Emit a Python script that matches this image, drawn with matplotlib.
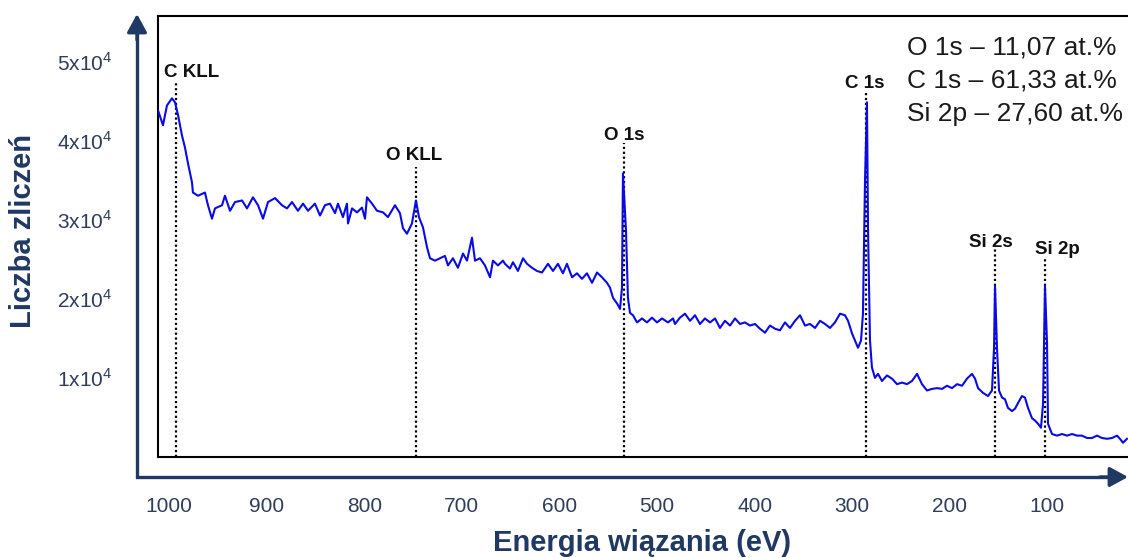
import matplotlib
matplotlib.use('Agg')
import matplotlib.pyplot as plt
from matplotlib.lines import Line2D

plt.rcParams['font.family'] = ['Liberation Sans', 'DejaVu Sans']
plt.rcParams['mathtext.fontset'] = 'custom'
plt.rcParams['mathtext.rm'] = 'Liberation Sans'

# survey spectrum: binding energy (eV) and counts
energy = [1011.3, 1006.2, 1002.1, 997.0, 993.9, 990.8, 986.7, 983.7, 980.6, 976.5,
          975.5, 970.3, 963.2, 960.1, 956.0, 952.9, 945.7, 942.7, 937.5, 932.4,
          925.2, 920.1, 914.0, 908.8, 903.7, 898.6, 891.4, 884.3, 879.1, 874.0,
          867.9, 862.7, 857.6, 850.5, 845.3, 840.2, 835.1, 829.9, 826.9, 821.8,
          817.7, 816.6, 812.5, 807.4, 802.3, 799.2, 797.2, 792.0, 786.9, 780.8,
          775.7, 768.5, 763.4, 760.3, 756.2, 751.1, 747.0, 743.9, 739.8, 735.7,
          732.6, 727.5, 722.4, 717.3, 714.2, 709.1, 704.0, 698.8, 694.7, 689.6,
          686.5, 681.4, 676.3, 671.1, 668.1, 663.0, 657.8, 655.8, 650.7, 647.6,
          642.5, 637.3, 633.2, 628.1, 623.0, 617.9, 611.7, 606.6, 601.5, 596.4,
          592.3, 587.1, 582.0, 576.9, 571.8, 566.6, 561.5, 556.4, 551.3, 548.2,
          545.1, 541.0, 537.9, 535.9, 534.9, 531.8, 529.8, 527.7, 524.6, 520.5,
          515.4, 510.3, 505.2, 500.0, 494.9, 488.8, 483.6, 481.6, 476.5, 471.3,
          466.2, 461.1, 456.0, 450.9, 445.7, 440.6, 435.5, 430.4, 425.2, 420.1,
          415.0, 409.9, 404.8, 399.6, 394.5, 389.4, 384.3, 379.1, 374.0, 368.9,
          363.8, 358.6, 353.5, 348.4, 343.3, 338.1, 333.0, 327.9, 322.8, 317.7,
          312.5, 307.4, 304.3, 300.2, 297.2, 294.1, 291.0, 289.0, 286.9, 284.9,
          283.8, 281.8, 279.8, 276.7, 273.6, 269.5, 264.4, 259.3, 254.1, 249.0,
          243.9, 238.8, 233.6, 228.5, 223.4, 218.3, 213.1, 208.0, 202.9, 197.8,
          192.6, 187.5, 182.4, 177.3, 174.2, 171.1, 166.0, 160.9, 156.8, 154.7,
          153.7, 151.7, 149.6, 146.5, 143.5, 140.4, 136.3, 133.2, 130.2, 126.1,
          123.0, 119.9, 115.8, 112.7, 109.6, 106.6, 104.5, 102.5, 100.4, 99.4,
          95.3, 90.2, 85.1, 79.9, 74.8, 69.7, 64.6, 59.4, 54.3, 49.2,
          44.1, 38.9, 33.8, 28.7, 25.7, 22.6, 18.5]
counts = [43800, 41900, 44400, 45300, 44800, 43200, 40600, 39100, 37100, 34700,
          33400, 33000, 33400, 31800, 30100, 31400, 31800, 33000, 31100, 32200,
          32400, 31400, 32800, 31800, 30100, 32200, 32700, 31800, 31400, 32200,
          31100, 32000, 31100, 32000, 30500, 31800, 32000, 30800, 32000, 30300,
          32000, 29500, 31400, 30900, 31500, 30100, 32800, 32000, 31100, 30900,
          30300, 31800, 30800, 28900, 28200, 29500, 32400, 30300, 29000, 26500,
          25100, 24800, 25100, 25400, 24200, 25100, 23900, 25700, 24800, 27700,
          24800, 25100, 24200, 22700, 24800, 24200, 24800, 24400, 23800, 24600,
          23500, 25100, 24400, 23900, 23500, 23300, 24400, 23500, 24400, 23200,
          24400, 22700, 23200, 22500, 23200, 22000, 23300, 22700, 22000, 21400,
          20100, 19400, 18700, 21400, 35800, 28600, 20100, 18200, 17900, 17000,
          17500, 17000, 17600, 17000, 17500, 17000, 17500, 16800, 17600, 18100,
          17200, 17900, 16800, 17500, 17000, 17500, 16300, 17200, 16600, 17500,
          16800, 17000, 16600, 16800, 16200, 15700, 16600, 16200, 16000, 17000,
          16300, 17200, 17900, 16600, 16800, 16300, 17200, 16800, 16300, 17000,
          18100, 17900, 17200, 15600, 14700, 13800, 14700, 18100, 34900, 44800,
          28600, 14700, 11300, 10000, 10500, 9600, 10300, 9900, 9200, 9400,
          9200, 9600, 10500, 9200, 8400, 8600, 8700, 8600, 9000, 8700,
          9200, 9000, 9900, 10500, 9900, 8700, 8100, 7700, 8400, 13800,
          21600, 13800, 8400, 7500, 7300, 6200, 5800, 6100, 6800, 7700,
          7500, 6200, 4900, 4600, 4200, 3700, 6700, 21600, 14300, 4200,
          2900, 2700, 2900, 2700, 2900, 2700, 2700, 2400, 2400, 2700,
          2400, 2300, 2400, 2700, 2300, 1800, 2300]

# peak assignments
peak_names = ['C KLL', 'O KLL', 'O 1s', 'C 1s', 'Si 2s', 'Si 2p']
peak_energy = [993, 747, 534, 286, 154, 102.5]
peak_line_top = [47300, 36600, 39600, 46100, 26300, 25200]
label_pos = [(977, 48000), (749, 37500), (533.8, 40000),
             (286.9, 46600), (158.3, 26500), (89.7, 25600)]

composition = ['O 1s – 11,07 at.%', 'C 1s – 61,33 at.%', 'Si 2p – 27,60 at.%']

x_ticks = [1000, 900, 800, 700, 600, 500, 400, 300, 200, 100]
y_ticks = [10000, 20000, 30000, 40000, 50000]
y_tick_labels = ['1x10$^4$', '2x10$^4$', '3x10$^4$', '4x10$^4$', '5x10$^4$']

navy = '#1f3864'
tick_color = '#2e3d5c'

fig = plt.figure(figsize=(11.28, 5.58), dpi=100)
ax = fig.add_axes([158/1128, 1 - 457/558, 972/1128, 441/558])

ax.plot(energy, counts, color='#0a0ae6', lw=1.5, zorder=3)

for e, top in zip(peak_energy, peak_line_top):
    ax.plot([e, e], [0, top], color='black', lw=1.6, ls=(0, (1, 1.2)), zorder=2)
for name, (lx, ly) in zip(peak_names, label_pos):
    ax.text(lx, ly, name, ha='center', va='baseline', fontsize=13.5,
            fontweight='bold', color='#111111')

ax.set_xlim(1011.3, 15.4)
ax.set_ylim(0, 55700)
ax.set_xticks(x_ticks)
ax.set_xticklabels([str(t) for t in x_ticks])
ax.set_yticks(y_ticks)
ax.set_yticklabels(y_tick_labels)
ax.tick_params(axis='both', length=0, labelsize=15, labelcolor=tick_color)
ax.tick_params(axis='x', pad=29)
ax.tick_params(axis='y', pad=33)
for s in ax.spines.values():
    s.set_linewidth(1.5)
    s.set_color('black')

# composition summary
for i, line in enumerate(composition):
    fig.text(907/1128, 1 - (55 + 33*i)/558, line, ha='left', va='baseline',
             fontsize=19, color='#1a1a1a')

# outer axes with arrow heads
fig.add_artist(Line2D([137/1128, 137/1128, 1120/1128],
                      [1 - 28/558, 1 - 477/558, 1 - 477/558],
                      transform=fig.transFigure, color=navy, lw=2.4,
                      solid_joinstyle='miter', solid_capstyle='butt'))
arrow = dict(arrowstyle='-|>,head_length=0.55,head_width=0.3', color=navy,
             lw=2.4, mutation_scale=20, shrinkA=0, shrinkB=0)
ax.annotate('', xy=(137, 558 - 14), xytext=(137, 558 - 40),
            xycoords='figure pixels', textcoords='figure pixels', arrowprops=arrow)
ax.annotate('', xy=(1128, 558 - 477), xytext=(1100, 558 - 477),
            xycoords='figure pixels', textcoords='figure pixels', arrowprops=arrow)

fig.text(23/1128, 1 - 231/558, 'Liczba zliczeń', rotation=90, ha='center',
         va='center', fontsize=21, fontweight='bold', color=navy)
fig.text(642/1128, 1 - 543/558, 'Energia wiązania (eV)', ha='center',
         va='center', fontsize=21, fontweight='bold', color=navy)

fig.savefig('out.png', dpi=100)
